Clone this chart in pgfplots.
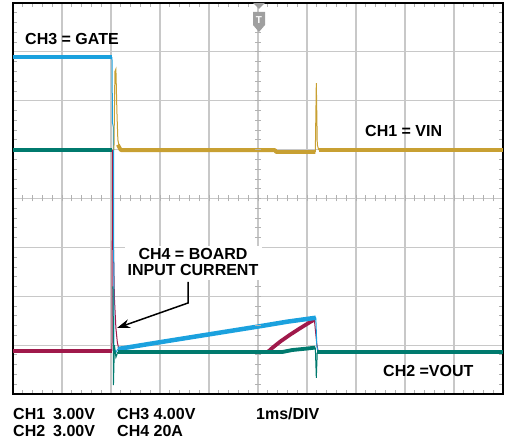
\documentclass[border=0pt]{standalone}
\usepackage{pgfplots}
\pgfplotsset{compat=1.18}
\usepackage{fontspec}
\setmainfont{Liberation Sans}
\usetikzlibrary{arrows.meta}

\definecolor{chblue}{RGB}{27,161,222}
\definecolor{chgold}{RGB}{200,160,50}
\definecolor{chteal}{RGB}{0,122,110}
\definecolor{chred}{RGB}{160,25,75}
\definecolor{gridgray}{RGB}{200,200,200}

\begin{document}
\begin{tikzpicture}[x=1pt,y=1pt]
\useasboundingbox (0,0) rectangle (505,446);
\begin{axis}[
    at={(13pt,52pt)}, anchor=south west,
    scale only axis, width=490pt, height=391pt,
    xmin=0, xmax=10, ymin=0, ymax=8,
    xtick={0,...,10}, ytick={0,...,8},
    xticklabels={}, yticklabels={},
    minor x tick num=4, minor y tick num=4,
    major tick length=0pt, minor tick length=4pt,
    tick style={draw=gray!60, line width=0.8pt},
    grid=major,
    grid style={gridgray, line width=1.2pt},
    axis line style={line width=1.6pt},
    thick3/.style={line width=3.8pt, line join=round},
    thin1/.style={line width=1pt},
]
% CH4 board input current
\addplot[chred, line width=4.2pt] coordinates {(0,0.88)(2.02,0.88)};
\addplot[chred, thin1] coordinates {(2.02,0.88)(2.03,5.0)(2.05,3.0)(2.07,1.95)(2.10,1.35)(2.13,1.05)(2.17,0.88)};
\addplot[chred, thick3] coordinates {(2.17,0.86)(5.2,0.86)(5.3,0.95)(5.45,1.07)(5.65,1.21)(5.85,1.34)(6.06,1.47)(6.15,1.52)};
\addplot[chred, thin1] coordinates {(6.15,1.52)(6.2,1.02)(6.23,0.86)};

% CH3 gate
\addplot[chblue, thick3] coordinates {(0,6.89)(2.02,6.89)};
\addplot[chblue, thin1] coordinates {(2.02,6.89)(2.03,5.55)(2.05,5.45)(2.06,0.95)(2.10,0.85)(2.14,0.92)};
\addplot[chblue, line width=4.5pt] coordinates {(2.14,0.92)(3,1.06)(4,1.22)(5,1.38)(5.6,1.48)(6.18,1.56)};
\addplot[chblue, thin1] coordinates {(6.18,1.56)(6.2,1.0)(6.22,0.86)};

% CH1 VIN
\addplot[chgold, thin1] coordinates {(2.06,4.99)(2.08,6.6)(2.10,6.65)(2.12,5.8)(2.14,5.2)(2.18,5.0)};
\addplot[chgold, thick3] coordinates {(2.14,5.1)(2.2,4.99)(5.35,4.99)(5.37,4.95)(6.17,4.95)};
\addplot[chgold, thin1] coordinates {(6.17,4.95)(6.19,6.36)(6.21,5.1)(6.24,4.99)};
\addplot[chgold, thick3] coordinates {(6.24,4.99)(10,4.99)};

% CH2 VOUT
\addplot[chteal, thick3] coordinates {(0,4.99)(2.03,4.99)};
\addplot[chteal, thin1] coordinates {(2.04,2.2)(2.045,1.9)(2.05,0.18)(2.07,1.0)(2.10,0.75)(2.14,0.86)};
\addplot[chteal, thick3] coordinates {(2.14,0.86)(5.5,0.86)(5.7,0.9)(6.0,0.93)(6.17,0.95)};
\addplot[chteal, thin1] coordinates {(6.17,0.95)(6.19,0.33)(6.21,0.86)};
\addplot[chteal, thick3] coordinates {(6.21,0.86)(10,0.86)};
\end{axis}

% centre-line graticule ticks
\foreach \i in {1,...,49}
  \draw[gray!60, line width=0.8pt] ({13+\i*9.8},244.5) -- ({13+\i*9.8},250.5);
\foreach \i in {1,...,39}
  \draw[gray!60, line width=0.8pt] (255,{52+\i*9.775}) -- (261,{52+\i*9.775});

% trigger marker
\fill[gray!75] (253,443) -- (265,443) -- (259,437) -- cycle;
\fill[gray!75] (253,434) -- (265,434) -- (265,421) -- (259,414) -- (253,421) -- cycle;
\node[white, font=\fontsize{10}{12}\selectfont\bfseries] at (259,425.5) {T};

% labels
\begin{scope}[every node/.style={inner sep=0pt, font=\fontsize{16}{19}\selectfont\bfseries}]
\node[anchor=base west] at (25,401) {CH3 = GATE};
\node[anchor=base west] at (365,309) {CH1 = VIN};
\node[anchor=base west] at (383,69) {CH2 =VOUT};
\fill[white] (125,166) rectangle (262,200);
\node[anchor=base] at (193,186) {CH4 = BOARD};
\node[anchor=base] at (193,170) {INPUT CURRENT};
\node[anchor=base west] at (13,26) {CH1\hspace{8pt}3.00V};
\node[anchor=base west] at (13,9) {CH2\hspace{8pt}3.00V};
\node[anchor=base west] at (117,26) {CH3 4.00V};
\node[anchor=base west] at (117,9) {CH4 20A};
\node[anchor=base west] at (256,26) {1ms/DIV};
\end{scope}
\draw[line width=1.5pt, -{Stealth[length=13pt,width=9pt]}] (188,164) -- (188,143) -- (117,118);
\end{tikzpicture}
\end{document}
